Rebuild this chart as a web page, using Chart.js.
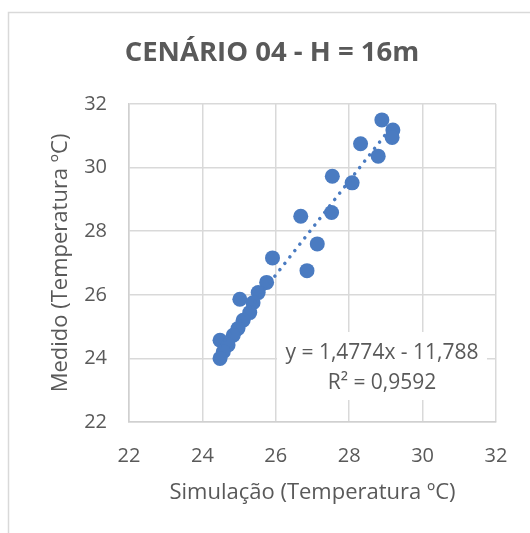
<!DOCTYPE html>
<html>
<head>
<meta charset="utf-8">
<script src="https://cdn.jsdelivr.net/npm/chart.js@4"></script>
<style>
  body { margin: 0; background: #fff; }
</style>
</head>
<body>
<canvas id="grafico" width="530" height="533"></canvas>
<script>
// Dati
const simulacao = [28.89, 29.19, 29.17, 28.31, 28.79, 27.54, 28.08, 26.68, 27.52, 27.13, 25.91, 26.85,
    25.75, 25.52, 25.02, 25.38, 25.29, 25.11, 24.97, 24.84, 24.48, 24.70, 24.57, 24.48];
const medido = [31.50, 31.18, 30.95, 30.75, 30.36, 29.73, 29.52, 28.47, 28.59, 27.60, 27.16, 26.76,
    26.39, 26.07, 25.86, 25.75, 25.44, 25.20, 24.94, 24.73, 24.57, 24.42, 24.21, 24.00];
const tickValues = [22, 24, 26, 28, 30, 32];
const trendSlope = 1.4774;
const trendIntercept = -11.788;
const equationLines = ['y = 1,4774x - 11,788', 'R² = 0,9592'];

const testo = '#595959';
const griglia = '#d9d9d9';
const blu = '#4a7bc1';

const punti = simulacao.map((x, i) => ({ x: x, y: medido[i] }));
const xMin = Math.min(...simulacao);
const xMax = Math.max(...simulacao);
const trend = [xMin, xMax].map(x => ({ x: x, y: trendSlope * x + trendIntercept }));

// bordo esterno + etichetta equazione
const decorazioni = {
    id: 'decorazioni',
    beforeDraw(chart) {
        const c = chart.ctx;
        c.save();
        c.strokeStyle = griglia;
        c.lineWidth = 1.5;
        c.beginPath();
        c.moveTo(8.5, 533);
        c.lineTo(8.5, 12.5);
        c.lineTo(530, 12.5);
        c.stroke();
        c.restore();
    },
    afterDraw(chart) {
        const c = chart.ctx;
        const a = chart.chartArea;
        c.save();
        c.fillStyle = '#fff';
        c.fillRect(a.left + 148, a.top + 228, 210, 68);
        c.fillStyle = testo;
        c.font = '21px "Open Sans"';
        c.textAlign = 'center';
        c.textBaseline = 'middle';
        c.fillText(equationLines[0], a.left + 253, a.top + 249);
        c.fillText(equationLines[1], a.left + 253, a.top + 279);
        c.restore();
    }
};

const ctx = document.getElementById('grafico').getContext('2d');
const myChart = new Chart(ctx, {
    type: 'scatter',
    data: {
        datasets: [{
            label: 'Medido',
            data: punti,
            backgroundColor: blu,
            borderWidth: 0,
            pointRadius: 7.5,
            order: 2
        }, {
            label: 'Linear',
            type: 'line',
            data: trend,
            borderColor: blu,
            borderWidth: 3.5,
            borderDash: [0.1, 8],
            borderCapStyle: 'round',
            pointRadius: 0,
            fill: false,
            order: 1
        }]
    },
    options: {
        responsive: false,
        animation: false,
        layout: { padding: { left: 48, right: 34, top: 0, bottom: 0 } },
        plugins: {
            legend: { display: false },
            tooltip: { enabled: false },
            title: {
                display: true,
                text: 'CENÁRIO 04 - H = 16m',
                color: testo,
                font: { family: 'Open Sans', size: 27.5, weight: 'bold', lineHeight: 1.2 },
                padding: { top: 36.5, bottom: 34.5 }
            }
        },
        scales: {
            x: {
                type: 'linear',
                min: 22,
                max: 32,
                afterBuildTicks(scale) { scale.ticks = tickValues.map(v => ({ value: v })); },
                afterFit(scale) { scale.height = 111; },
                grid: { color: griglia, lineWidth: 1.5, drawTicks: false },
                border: { color: '#d0d0d0', width: 1.5 },
                ticks: { color: testo, padding: 22, font: { family: 'Open Sans', size: 20 } },
                title: {
                    display: true,
                    text: 'Simulação (Temperatura ºC)',
                    color: testo,
                    font: { family: 'Open Sans', size: 22, lineHeight: 1.2 },
                    padding: { top: 0, bottom: 27 }
                }
            },
            y: {
                type: 'linear',
                min: 22,
                max: 32,
                afterBuildTicks(scale) { scale.ticks = tickValues.map(v => ({ value: v })); },
                afterFit(scale) { scale.width = 81; },
                grid: { color: griglia, lineWidth: 1.5, drawTicks: false },
                border: { color: '#d0d0d0', width: 1.5 },
                ticks: { color: testo, padding: 22, font: { family: 'Open Sans', size: 20 } },
                title: {
                    display: true,
                    text: 'Medido (Temperatura ºC)',
                    color: testo,
                    font: { family: 'Open Sans', size: 22, lineHeight: 1.2 },
                    padding: { top: 0, bottom: 0 }
                }
            }
        }
    },
    plugins: [decorazioni]
});
</script>
</body>
</html>
